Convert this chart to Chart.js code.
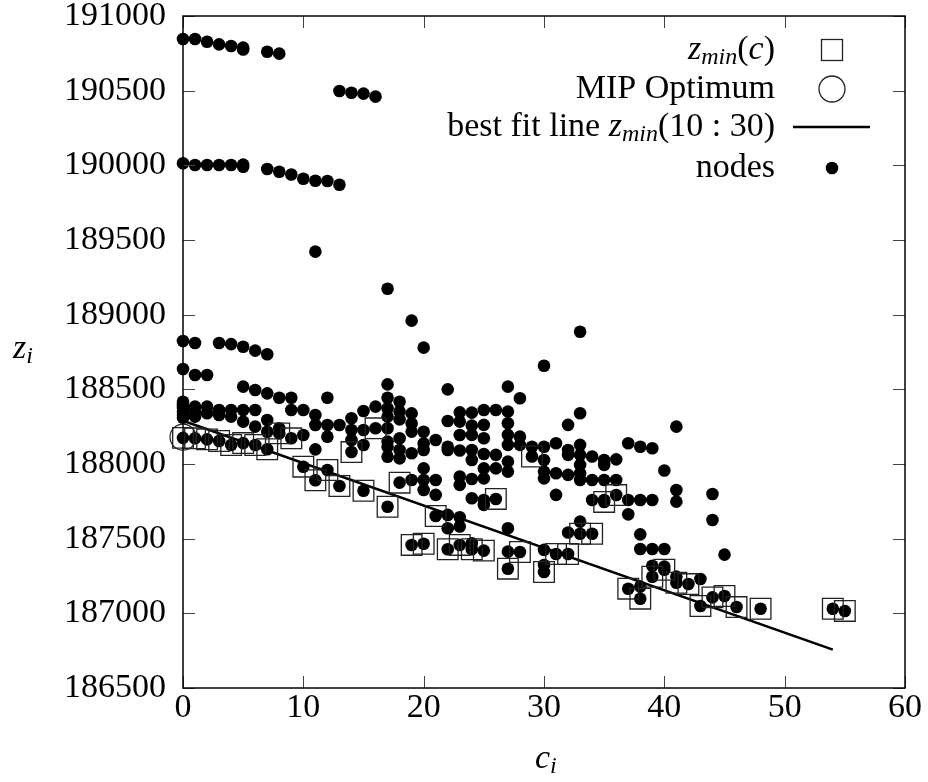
<!DOCTYPE html>
<html><head><meta charset="utf-8">
<script src="https://cdn.jsdelivr.net/npm/chart.js@4/dist/chart.umd.min.js"></script>
<style>html,body{margin:0;padding:0;background:#fff}canvas{display:block}</style>
</head><body>
<canvas id="c" width="928" height="782"></canvas>
<script>
const xTicks = [0, 10, 20, 30, 40, 50, 60];
const yTicks = [186500, 187000, 187500, 188000, 188500, 189000, 189500, 190000, 190500, 191000];

// z_min(c): lowest node for each c
const minC = [0,1,2,3,4,5,6,7,8,9,10,11,12,13,14,15,16,17,18,19,20,21,22,23,24,25,26,27,28,29,30,31,32,33,34,35,36,37,38,39,40,41,42,43,44,45,46,48,54,55];
const minZ = [188175,188172,188165,188154,188127,188140,188127,188099,188205,188172,187982,187891,187960,187853,188080,187821,188239,187714,187875,187458,187466,187652,187429,187458,187429,187420,187766,187299,187411,188050,187277,187397,187397,187533,187533,187746,187792,187165,187098,187245,187292,187205,187196,187049,187107,187116,187042,187031,187031,187016];

const mipOptimum = [0, 188180];

const fitC = [0, 54];
const fitZ = [188290, 186757];

// other nodes, grouped by c
const nodeColumns = [
  [0,[190846,190014,188824,188636,188417,188395,188375,188350,188330,188310]],
  [1,[190846,190002,188810,188596,188384,188350,188317]],
  [2,[190828,190002,188596,188384,188340]],
  [3,[190810,190002,188810,188362,188328]],
  [4,[190799,190002,188803,188362,188317]],
  [5,[190788,190776,190005,189991,188785,188518,188362,188284]],
  [6,[188759,188496,188362,188250]],
  [7,[190761,189975,188735,188473,188295,188216]],
  [8,[190748,189957,188444,188239]],
  [9,[189939,188444,188362]],
  [10,[189910,188362,188194]],
  [11,[189897,189422,188328,188261,188098]],
  [12,[189895,188444,188261,188183]],
  [13,[190498,189870,188261]],
  [14,[190486,188306,188228,188161]],
  [15,[190480,188355,188228,188127]],
  [16,[190460,188384]],
  [17,[189174,188533,188444,188373,188317,188239,188150,188116,188049]],
  [18,[188417,188351,188299,188172,188094,188038]],
  [19,[188960,188339,188272,188217,188072,187893]],
  [20,[188779,188216,188138,188094,187971,187893,187826]],
  [21,[188161,187893,187793]],
  [22,[188500,188288,188116,188094,187659,187570]],
  [23,[188346,188284,188194,188090,187916,187860,187643,187581]],
  [24,[188344,188257,188195,188094,188027,187900,187771,187469]],
  [25,[188362,188262,188172,188067,187971,187904,187759,187726]],
  [26,[188362,188061,187971]],
  [27,[188518,188351,188273,188195,188128,188016,187949,187570,187413]],
  [28,[188440,188183,188128]],
  [29,[188116]],
  [30,[188658,188116,188027,187949,187904,187425,187324]],
  [31,[188139,187938,187793]],
  [32,[188262,188094,188061,187927,187541]],
  [33,[188886,188340,188128,188061,187994,187938,187893,187614]],
  [34,[188050,187893,187759]],
  [35,[188027,187994,187893,187759]],
  [36,[188031,187893]],
  [37,[188139,187759,187663]],
  [38,[188116,187759,187529,187431,187179]],
  [39,[188105,187759,187431,187319]],
  [40,[187956,187431,187313]],
  [41,[188250,187826,187748,187246]],
  [43,[187230]],
  [44,[187799,187625]],
  [45,[187393]]
];

const FAM = "'Liberation Serif', 'Times New Roman', serif";
const F = (s, it) => (it ? 'italic ' : '') + s + 'px ' + FAM;

const minPts = minC.map((c, i) => ({x: c, y: minZ[i]}));
const nodePts = [];
nodeColumns.forEach(([c, zs]) => zs.forEach(z => nodePts.push({x: c, y: z})));
minPts.forEach(p => nodePts.push({x: p.x, y: p.y}));
const fitPts = fitC.map((c, i) => ({x: c, y: fitZ[i]}));

function drawRich(ctx, segs, right, y) {
  let total = 0;
  segs.forEach(s => { ctx.font = s.f; s.w = ctx.measureText(s.t).width; total += s.w; });
  let x = right - total;
  segs.forEach(s => { ctx.font = s.f; ctx.fillText(s.t, x, y + (s.dy || 0)); x += s.w; });
}
function drawLeft(ctx, segs, left, y) {
  let x = left;
  segs.forEach(s => { ctx.font = s.f; ctx.fillText(s.t, x, y + (s.dy || 0)); x += ctx.measureText(s.t).width; });
}

const framePlugin = {
  id: 'frame',
  afterDraw(chart) {
    const ctx = chart.ctx, a = chart.chartArea;
    const xs = chart.scales.x, ys = chart.scales.y;
    ctx.save();
    // ticks (mirrored, inward)
    ctx.strokeStyle = '#444';
    ctx.lineWidth = 1;
    const TL = 12;
    ctx.beginPath();
    yTicks.forEach(v => {
      const py = Math.round(ys.getPixelForValue(v)) + 0.5;
      ctx.moveTo(a.left, py); ctx.lineTo(a.left + TL, py);
      ctx.moveTo(a.right, py); ctx.lineTo(a.right - TL, py);
    });
    xTicks.forEach(v => {
      const px = Math.round(xs.getPixelForValue(v)) + 0.5;
      ctx.moveTo(px, a.bottom); ctx.lineTo(px, a.bottom - TL);
      ctx.moveTo(px, a.top); ctx.lineTo(px, a.top + TL);
    });
    ctx.stroke();
    // frame
    ctx.strokeStyle = '#000';
    ctx.lineWidth = 1.5;
    ctx.strokeRect(a.left, a.top, a.right - a.left, a.bottom - a.top);

    // legend
    ctx.fillStyle = '#000';
    ctx.textAlign = 'left';
    ctx.textBaseline = 'middle';
    const R = 775, SX = 832;
    const L = [50, 89, 127, 168];
    drawRich(ctx, [
      {t: 'z', f: F(34, true)}, {t: 'min', f: F(24, true), dy: 8},
      {t: '(', f: F(34)}, {t: 'c', f: F(34, true)}, {t: ')', f: F(34)}
    ], R, L[0]);
    drawRich(ctx, [{t: 'MIP Optimum', f: F(34)}], R, L[1]);
    drawRich(ctx, [
      {t: 'best fit line ', f: F(34)}, {t: 'z', f: F(34, true)}, {t: 'min', f: F(24, true), dy: 8},
      {t: '(10 : 30)', f: F(34)}
    ], R, L[2]);
    drawRich(ctx, [{t: 'nodes', f: F(34)}], R, L[3]);

    ctx.strokeStyle = '#222';
    ctx.lineWidth = 1.3;
    ctx.strokeRect(SX - 10.5, L[0] - 10.5, 21, 21);
    ctx.beginPath(); ctx.arc(SX, L[1], 13, 0, Math.PI * 2); ctx.stroke();
    ctx.strokeStyle = '#000';
    ctx.lineWidth = 2.5;
    ctx.beginPath(); ctx.moveTo(793, L[2]); ctx.lineTo(870, L[2]); ctx.stroke();
    ctx.beginPath(); ctx.arc(SX, L[3], 6.3, 0, Math.PI * 2); ctx.fill();

    // axis titles
    drawLeft(ctx, [{t: 'z', f: F(34, true)}, {t: 'i', f: F(24, true), dy: 8}], 13, 349);
    drawLeft(ctx, [{t: 'c', f: F(34, true)}, {t: 'i', f: F(24, true), dy: 8}], 535, 759);
    ctx.restore();
  }
};

new Chart(document.getElementById('c'), {
  type: 'scatter',
  data: {
    datasets: [
      {label: 'z_min(c)', data: minPts, pointStyle: 'rect', pointRadius: 14.6,
       backgroundColor: 'rgba(0,0,0,0)', borderColor: '#222', borderWidth: 1.3, clip: false},
      {label: 'MIP Optimum', data: [{x: mipOptimum[0], y: mipOptimum[1]}], pointStyle: 'circle', pointRadius: 13,
       backgroundColor: 'rgba(0,0,0,0)', borderColor: '#222', borderWidth: 1.2, clip: false},
      {label: 'best fit line', data: fitPts, showLine: true, pointRadius: 0, borderColor: '#000',
       borderWidth: 2.6, clip: false},
      {label: 'nodes', data: nodePts, pointStyle: 'circle', pointRadius: 6.3,
       backgroundColor: '#000', borderWidth: 0, clip: false}
    ]
  },
  options: {
    responsive: false,
    animation: false,
    events: [],
    devicePixelRatio: 1,
    layout: {padding: {top: 16, right: 23, bottom: 0, left: 0}},
    plugins: {legend: {display: false}, tooltip: {enabled: false}},
    scales: {
      x: {
        type: 'linear', min: 0, max: 60,
        grid: {display: false, drawTicks: false}, border: {display: false},
        afterBuildTicks: s => { s.ticks = xTicks.map(v => ({value: v})); },
        ticks: {color: '#000', padding: 0, font: {family: FAM, size: 34}, callback: v => String(v), maxRotation: 0, autoSkip: false},
        afterFit: s => { s.height = 94; s.paddingLeft = 0; s.paddingRight = 0; }
      },
      y: {
        type: 'linear', min: 186500, max: 191000,
        grid: {display: false, drawTicks: false}, border: {display: false},
        afterBuildTicks: s => { s.ticks = yTicks.map(v => ({value: v})); },
        ticks: {color: '#000', padding: 17, font: {family: FAM, size: 34}, callback: v => String(v), autoSkip: false},
        afterFit: s => { s.width = 183; s.paddingTop = 0; s.paddingBottom = 0; }
      }
    }
  },
  plugins: [framePlugin]
});
</script>
</body></html>
